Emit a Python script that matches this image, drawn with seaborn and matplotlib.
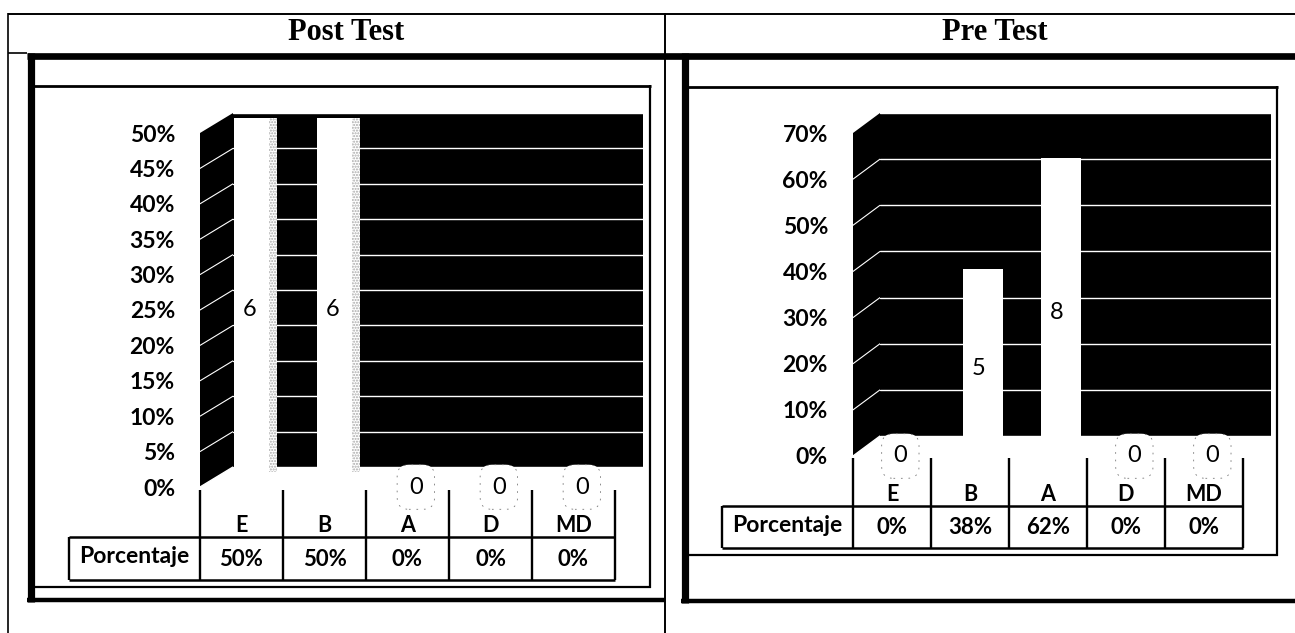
import matplotlib
matplotlib.use("Agg")
import matplotlib.pyplot as plt
import pandas as pd
import seaborn as sns
from matplotlib.patches import Polygon, Rectangle

W, H = 1295, 633

categories = ["E", "B", "A", "D", "MD"]
post_pct = [50, 50, 0, 0, 0]
post_counts = [6, 6, 0, 0, 0]
post_ticks = [0, 5, 10, 15, 20, 25, 30, 35, 40, 45, 50]
pre_pct = [0, 38, 62, 0, 0]
pre_counts = [0, 5, 8, 0, 0]
pre_ticks = [0, 10, 20, 30, 40, 50, 60, 70]
row_name = "Porcentaje"

sns.set_theme(style="white")
plt.rcParams["font.family"] = ["Lato", "DejaVu Sans"]

fig = plt.figure(figsize=(W / 100, H / 100), dpi=100, facecolor="white")


def pix_axes(x0, y_top, x1, y_bot, z, **kw):
    # axes placed by pixel box of the scan
    return fig.add_axes([x0 / W, 1 - y_bot / H, (x1 - x0) / W, (y_bot - y_top) / H], zorder=z, **kw)


# page layer in pixel coords, frames of the scanned table
bg = pix_axes(0, 0, W, H, 0)
bg.set_xlim(0, W)
bg.set_ylim(H, 0)
bg.axis("off")


def hline(y, x0, x1, lw=1.0):
    bg.plot([x0, x1], [y, y], color="black", lw=lw, solid_capstyle="butt")


def vline(x, y0, y1, lw=1.0):
    bg.plot([x, x], [y0, y1], color="black", lw=lw, solid_capstyle="butt")


# outer table
hline(14, 8, W, 1.4)
vline(8, 13, H, 1.2)
vline(665, 13, H, 1.4)
hline(52.5, 8, 27, 1.2)
hline(55.5, 27, W, 4.8)
bg.text(346, 33, "Post Test", family="Liberation Serif", weight="bold", fontsize=22, ha="center", va="center", color="black")
bg.text(995, 33, "Pre Test", family="Liberation Serif", weight="bold", fontsize=22, ha="center", va="center", color="black")

# left chart frame
vline(30.5, 53, 602, 5.2)
hline(85.5, 34, 651, 2.0)
vline(650, 85, 588, 1.6)
hline(587, 34, 651, 1.6)
hline(600, 27, 665, 3.2)

# right chart frame
vline(684.5, 53, 603, 5.2)
hline(86.5, 688, 1278, 2.0)
vline(1277, 86, 556, 1.6)
hline(555, 688, 1278, 1.6)
hline(601, 681, W, 3.2)


def draw_panel(pct, counts, ticks, top, x0, step, wall_x1, back_dx, back_dy, front_y0, front_y_top,
               table_x0, tick_y0, row_top, row_bot, bar_dx, bar_dy, speckle):
    x1 = x0 + step * 5
    df = pd.DataFrame({"cat": categories, "pct": pct})

    # side wall
    side = Polygon([(x0, front_y_top), (x0 + back_dx, front_y_top - back_dy),
                    (x0 + back_dx, front_y0 - back_dy), (x0, front_y0)], closed=True, color="black", lw=0)
    bg.add_patch(side)
    scale = (front_y0 - front_y_top) / top
    for t in ticks[1:-1]:
        yf = front_y0 - t * scale
        bg.plot([x0, x0 + back_dx], [yf, yf - back_dy], color="white", lw=0.8, zorder=3)
    bg.plot([x0, x0 + back_dx], [front_y0, front_y0 - back_dy], color="white", lw=1.0, zorder=3)

    # back wall
    wall = pix_axes(x0 + back_dx, front_y_top - back_dy, wall_x1, front_y0 - back_dy, 1)
    wall.set_facecolor("black")
    wall.set_xlim(0, 1)
    wall.set_ylim(0, top)
    wall.set_xticks([])
    wall.set_yticks(ticks)
    wall.set_yticklabels([])
    wall.grid(axis="y", color="white", lw=1.0)
    wall.tick_params(length=0)
    sns.despine(ax=wall, left=True, bottom=True, right=True, top=True)

    # columns sit between front and back plane
    bars = pix_axes(x0 + bar_dx, front_y_top - bar_dy, x1 + bar_dx, front_y0 - bar_dy, 2)
    bars.patch.set_alpha(0)
    sns.barplot(data=df, x="cat", y="pct", color="white", saturation=1, width=0.52, ax=bars)
    bars.set_xlim(-0.5, 4.5)
    bars.set_ylim(0, top)
    bars.axis("off")
    for p in bars.patches:
        p.set_linewidth(0)
        # white column carries down to the floor
        if p.get_height() > 0:
            p.set_y(-3)
            p.set_height(p.get_height() + 3)
            if speckle:
                w = p.get_width() * 0.18
                bars.add_patch(Rectangle((p.get_x() + p.get_width() - w, -3), w, p.get_height(),
                                         facecolor="white", edgecolor="#a8a8a8", hatch="......", lw=0))

    # front plane: y labels, category labels, data labels
    front = pix_axes(x0, front_y_top, x1, front_y0, 3)
    front.patch.set_alpha(0)
    front.set_xlim(-0.5, 4.5)
    front.set_ylim(0, top)
    front.set_xticks(range(5))
    front.set_xticklabels(categories, fontsize=15.5, fontweight="bold", color="black")
    front.tick_params(axis="x", length=0, pad=20)
    front.set_yticks(ticks)
    front.set_yticklabels([f"{t}%" for t in ticks], fontsize=16.5, fontweight="bold", color="black")
    front.tick_params(axis="y", length=0, pad=18)
    sns.despine(ax=front, left=True, bottom=True, right=True, top=True)
    for i, c in enumerate(counts):
        # scan leaves broken outlines round the empty labels, the others sit on white columns
        box = None
        if c == 0:
            box = dict(boxstyle="round,pad=0.5", fc="white", ec="#777777", lw=0.6, ls=(0, (2, 7)))
        front.annotate(str(c), (i, pct[i] / 2), xytext=(6, 0), textcoords="offset points", ha="center",
                       va="center", fontsize=17, color="black", annotation_clip=False, bbox=box)

    # data table under the chart
    for i in range(6):
        vline(x0 + i * step, tick_y0, row_bot, 1.7)
    vline(table_x0, row_top, row_bot, 1.7)
    hline(row_top, table_x0, x1, 1.8)
    hline(row_bot, table_x0, x1, 1.8)
    bg.text((table_x0 + x0) / 2, (row_top + row_bot) / 2 - 2, row_name, fontsize=16.5, fontweight="bold",
            ha="center", va="center", color="black")
    for i, v in enumerate(pct):
        bg.text(x0 + (i + 0.5) * step, (row_top + row_bot) / 2 + 1, f"{v}%", fontsize=16, fontweight="bold",
                ha="center", va="center", color="black")


draw_panel(post_pct, post_counts, post_ticks, 50, 200, 83, 643, 33, 20, 487, 133,
           69, 490, 537, 580, 14, 15, True)
draw_panel(pre_pct, pre_counts, pre_ticks, 70, 853, 78, 1271, 27, 20, 456, 133,
           722, 458, 506, 548, 13, 12, False)

fig.savefig("out.png", dpi=100)
